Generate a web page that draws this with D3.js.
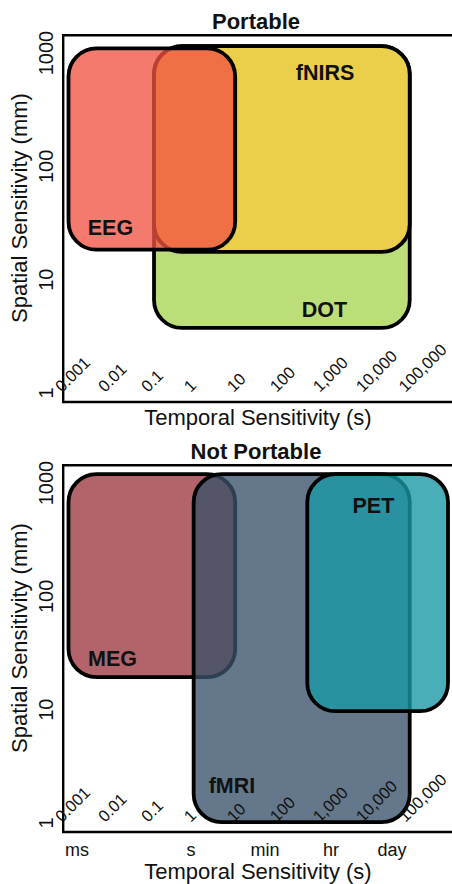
<!DOCTYPE html>
<html>
<head>
<meta charset="utf-8">
<script src="https://cdn.jsdelivr.net/npm/d3@7"></script>
<style>
  html, body { margin: 0; padding: 0; background: #fff; }
  svg { display: block; font-family: "Liberation Sans", Arial, sans-serif; }
</style>
</head>
<body>
<svg id="chart" width="452" height="884"></svg>
<script>
// Temporal axis ticks (seconds) and their printed labels
const xTickValues = [0.001, 0.01, 0.1, 1, 10, 100, 1000, 10000, 100000];
const xTickLabels = ["0.001", "0.01", "0.1", "1", "10", "100", "1,000", "10,000", "100,000"];
// Spatial axis ticks (mm)
const yTickValues = [1, 10, 100, 1000];
const yTickLabels = ["1", "10", "100", "1000"];
// Everyday time units shown under the lower panel
const timeUnits = ["ms", "s", "min", "hr", "day"];
const timeUnitSeconds = [0.00158, 0.71, 37.6, 1290, 34000];

// Portable modalities (drawn in this order, last on top)
const portableNames = ["DOT", "fNIRS", "EEG"];
const portableTime = [[0.098, 88000], [0.098, 88000], [0.001, 7.6]];
const portableSpace = [[3.75, 1150], [17.6, 1150], [18.4, 1100]];
const portableLabelAt = [[914, 4.69], [938, 579], [0.0095, 25]];
const portableFill = ["#bcde78", "#ebce4a", "#f15243"];
const portableOpacity = [1, 1, 0.77];

// Non-portable modalities
const fixedNames = ["MEG", "fMRI", "PET"];
const fixedTime = [[0.001, 7.6], [0.82, 88000], [363, 686000]];
const fixedSpace = [[19.4, 1200], [1.02, 1200], [9.7, 1200]];
const fixedLabelAt = [[0.0106, 24.3], [6.4, 1.84], [12600, 545]];
const fixedFill = ["#b2646a", "#3a5169", "#1998a5"];
const fixedOpacity = [1, 0.78, 0.79];

const svg = d3.select("#chart");

const x = d3.scaleLog().domain([0.001, 100000]).range([68.5, 412.1]);
const y = d3.scaleLog().domain([1, 1000]).range([393, 53.1]);

const frame = { left: 63.2, top: 35.2, bottom: 402, right: 470 };

function drawPanel(g, title, names, time, space, labelAt, fill, opacity, showUnits) {
  // rounded boxes
  names.forEach((name, i) => {
    const x0 = x(time[i][0]), x1 = x(time[i][1]);
    const y0 = y(space[i][1]), y1 = y(space[i][0]);
    const b = g.append("g").attr("class", "box");
    b.append("rect")
      .attr("x", x0).attr("y", y0)
      .attr("width", x1 - x0).attr("height", y1 - y0)
      .attr("rx", 28).attr("ry", 28)
      .attr("fill", fill[i]).attr("fill-opacity", opacity[i]);
    b.append("rect")
      .attr("x", x0).attr("y", y0)
      .attr("width", x1 - x0).attr("height", y1 - y0)
      .attr("rx", 28).attr("ry", 28)
      .attr("fill", "none").attr("stroke", "#000").attr("stroke-width", 3.8);
  });

  // modality names
  names.forEach((name, i) => {
    g.append("text")
      .attr("x", x(labelAt[i][0])).attr("y", y(labelAt[i][1]))
      .attr("text-anchor", "middle")
      .attr("font-weight", "bold").attr("font-size", 21.5)
      .attr("fill", "#111")
      .text(name);
  });

  // plot frame (left, top, bottom)
  g.append("path")
    .attr("d", `M${frame.right},${frame.top}H${frame.left}V${frame.bottom}H${frame.right}`)
    .attr("fill", "none").attr("stroke", "#000").attr("stroke-width", 2.4);

  // temporal tick labels, set inside the frame at 45 degrees
  xTickValues.forEach((v, i) => {
    const px = x(v) - 6.5, py = 393;
    g.append("text")
      .attr("transform", `translate(${px},${py}) rotate(-45)`)
      .attr("font-size", 16.5).attr("fill", "#111")
      .text(xTickLabels[i]);
  });

  // spatial tick labels
  yTickValues.forEach((v, i) => {
    g.append("text")
      .attr("transform", `translate(53,${y(v)}) rotate(-90)`)
      .attr("text-anchor", "middle")
      .attr("font-size", 20).attr("fill", "#111")
      .text(yTickLabels[i]);
  });

  // panel title
  g.append("text")
    .attr("x", 256).attr("y", 29)
    .attr("text-anchor", "middle")
    .attr("font-weight", "bold").attr("font-size", 22)
    .attr("fill", "#111")
    .text(title);

  // axis titles
  g.append("text")
    .attr("transform", `translate(27,208) rotate(-90)`)
    .attr("text-anchor", "middle")
    .attr("font-size", 22).attr("fill", "#111")
    .text("Spatial Sensitivity (mm)");

  let xTitleY = 424.5;
  if (showUnits) {
    timeUnits.forEach((u, i) => {
      g.append("text")
        .attr("x", x(timeUnitSeconds[i])).attr("y", 426)
        .attr("text-anchor", "middle")
        .attr("font-size", 18).attr("fill", "#111")
        .text(u);
    });
    xTitleY = 449;
  }
  g.append("text")
    .attr("x", 258).attr("y", xTitleY)
    .attr("text-anchor", "middle")
    .attr("font-size", 22).attr("fill", "#111")
    .text("Temporal Sensitivity (s)");
}

drawPanel(svg.append("g"), "Portable",
  portableNames, portableTime, portableSpace, portableLabelAt, portableFill, portableOpacity, false);
drawPanel(svg.append("g").attr("transform", "translate(0,430)"), "Not Portable",
  fixedNames, fixedTime, fixedSpace, fixedLabelAt, fixedFill, fixedOpacity, true);
</script>
</body>
</html>
